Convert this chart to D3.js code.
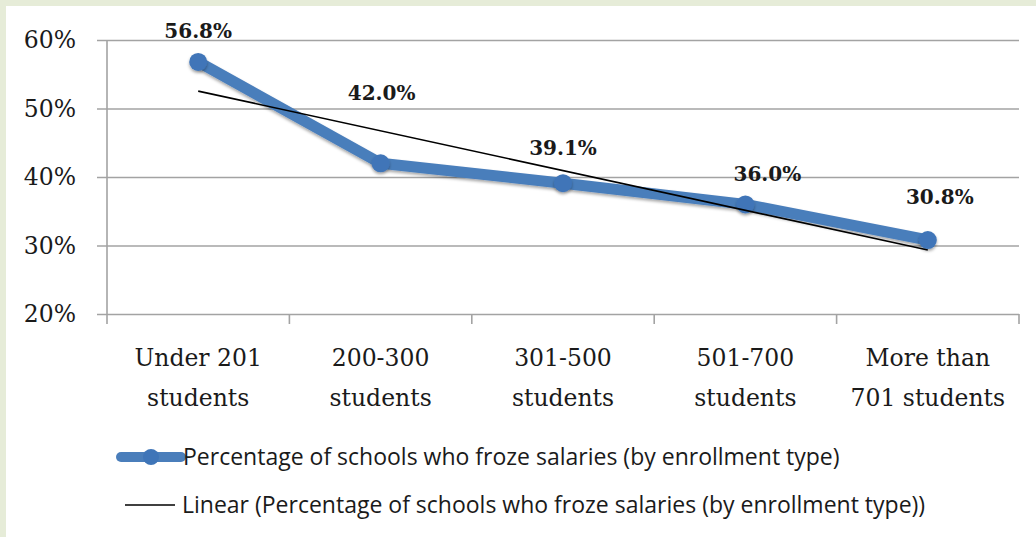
<!DOCTYPE html>
<html>
<head>
<meta charset="utf-8">
<script src="https://cdn.jsdelivr.net/npm/d3@7"></script>
<style>
  html, body { margin: 0; padding: 0; background: #ffffff; }
  svg { display: block; }
</style>
</head>
<body>
<svg id="chart"></svg>
<script>
// data
const categories = [["Under 201", "students"], ["200-300", "students"], ["301-500", "students"], ["501-700", "students"], ["More than", "701 students"]]
const frozeValues = [0.568, 0.420, 0.391, 0.360, 0.308]
const valueLabels = ["56.8%", "42.0%", "39.1%", "36.0%", "30.8%"]
const yTicks = [0.2, 0.3, 0.4, 0.5, 0.6]
const seriesName = "Percentage of schools who froze salaries (by enrollment type)"
const trendName = "Linear (Percentage of schools who froze salaries (by enrollment type))"

// label nudges (px) so the labels sit where Excel put them
const labelShift = [[0, -24], [1, -63], [0, -28], [22, -23], [12, -36]]

var dimensions = {
  width: 1036,
  height: 537,
  margin: { top: 40, bottom: 223, left: 107, right: 17 }
}
dimensions.boundedWidth = dimensions.width - dimensions.margin.left - dimensions.margin.right
dimensions.boundedHeight = dimensions.height - dimensions.margin.top - dimensions.margin.bottom

const blue = "#4a7ebb"
const gridColor = "#a3a3a3"
const serif = "'DejaVu Serif', serif"
const sans = "'Open Sans', sans-serif"

var svg = d3.select("#chart")
  .attr("width", dimensions.width)
  .attr("height", dimensions.height)

// slide background: pale green frame, white panel
svg.append("rect").attr("width", dimensions.width).attr("height", dimensions.height).attr("fill", "#e6ecd8")
svg.append("rect").attr("x", 6).attr("y", 6).attr("width", dimensions.width - 6).attr("height", dimensions.height - 6).attr("fill", "#ffffff")

var defs = svg.append("defs")
defs.append("filter").attr("id", "shadow").attr("x", "-20%").attr("y", "-20%").attr("width", "140%").attr("height", "160%")
  .append("feDropShadow").attr("dx", 0).attr("dy", 2).attr("stdDeviation", 1.5).attr("flood-color", "#000").attr("flood-opacity", 0.35)

var keys = categories.map(c => c.join(" "))

var xScale = d3.scaleBand()
  .domain(keys)
  .range([dimensions.margin.left, dimensions.margin.left + dimensions.boundedWidth])
  .padding(0)

var yScale = d3.scaleLinear()
  .domain([0.2, 0.6])
  .range([dimensions.margin.top + dimensions.boundedHeight, dimensions.margin.top])

var xMid = d => xScale(d) + xScale.bandwidth() / 2

// gridlines
svg.append("g")
  .attr("transform", `translate(${dimensions.margin.left + dimensions.boundedWidth},0)`)
  .call(d3.axisLeft(yScale).tickValues(yTicks).tickSize(dimensions.boundedWidth + 10).tickFormat(""))
  .call(g => g.select(".domain").remove())
  .call(g => g.selectAll("line").attr("stroke", gridColor).attr("stroke-width", 1.6))

// y axis labels + axis line
var yAxis = svg.append("g")
  .attr("transform", `translate(${dimensions.margin.left},0)`)
  .call(d3.axisLeft(yScale).tickValues(yTicks).tickSize(10).tickPadding(21).tickFormat(d3.format(".0%")))
yAxis.select(".domain").remove()
yAxis.selectAll("line").remove()
yAxis.selectAll("text")
  .style("font-family", serif).style("font-size", "23.5px").attr("fill", "#1a1a1a")

svg.append("line")
  .attr("x1", dimensions.margin.left).attr("x2", dimensions.margin.left)
  .attr("y1", yScale(0.6)).attr("y2", yScale(0.2) + 10)
  .attr("stroke", gridColor).attr("stroke-width", 1.6)

// category boundary ticks
var boundaries = keys.map(k => xScale(k)).concat([xScale.range()[1]])
svg.append("g").selectAll("line")
  .data(boundaries.slice(1))
  .enter().append("line")
  .attr("x1", d => d).attr("x2", d => d)
  .attr("y1", yScale(0.2)).attr("y2", yScale(0.2) + 10)
  .attr("stroke", gridColor).attr("stroke-width", 1.6)

// category labels, two lines each
var catLabels = svg.append("g").selectAll("text")
  .data(categories)
  .enter().append("text")
  .attr("x", (d, i) => xMid(keys[i]))
  .attr("y", yScale(0.2) + 52)
  .attr("text-anchor", "middle")
  .style("font-family", serif).style("font-size", "23.5px").attr("fill", "#1a1a1a")
catLabels.selectAll("tspan")
  .data(d => d)
  .enter().append("tspan")
  .attr("x", function() { return d3.select(this.parentNode).attr("x") })
  .attr("dy", (d, i) => i ? 40 : 0)
  .text(d => d)

// linear trend (least squares over category index)
var n = frozeValues.length
var idx = d3.range(1, n + 1)
var mx = d3.mean(idx), my = d3.mean(frozeValues)
var slope = d3.sum(idx, (x, i) => (x - mx) * (frozeValues[i] - my)) / d3.sum(idx, x => (x - mx) * (x - mx))
var intercept = my - slope * mx
var trend = [1, n].map(x => ({ key: keys[x - 1], v: intercept + slope * x }))

// series line
var series = keys.map((k, i) => ({ key: k, v: frozeValues[i] }))
svg.append("path")
  .datum(series)
  .attr("fill", "none")
  .attr("stroke", blue)
  .attr("stroke-width", 11)
  .attr("stroke-linejoin", "round")
  .attr("filter", "url(#shadow)")
  .attr("d", d3.line().x(d => xMid(d.key)).y(d => yScale(d.v)))

svg.selectAll(".dot")
  .data(series)
  .enter().append("circle")
  .attr("class", "dot")
  .attr("cx", d => xMid(d.key))
  .attr("cy", d => yScale(d.v))
  .attr("r", 9)
  .attr("fill", "#3f75b8")
  .attr("filter", "url(#shadow)")

svg.append("path")
  .datum(trend)
  .attr("fill", "none")
  .attr("stroke", "#000")
  .attr("stroke-width", 1.6)
  .attr("d", d3.line().x(d => xMid(d.key)).y(d => yScale(d.v)))

// data labels
svg.selectAll(".vlabel")
  .data(series)
  .enter().append("text")
  .attr("class", "vlabel")
  .attr("x", (d, i) => xMid(d.key) + labelShift[i][0])
  .attr("y", (d, i) => yScale(d.v) + labelShift[i][1])
  .attr("text-anchor", "middle")
  .style("font-family", serif).style("font-size", "20px").style("font-weight", "bold")
  .attr("fill", "#1a1a1a")
  .text((d, i) => valueLabels[i])

// legend
var legend = svg.append("g").attr("transform", "translate(121,457)")
legend.append("line")
  .attr("x1", 0).attr("x2", 60).attr("y1", 0).attr("y2", 0)
  .attr("stroke", blue).attr("stroke-width", 10).attr("stroke-linecap", "round")
legend.append("circle").attr("cx", 30).attr("cy", 0).attr("r", 8).attr("fill", "#3f75b8")
legend.append("text")
  .attr("x", 62).attr("y", 8)
  .style("font-family", sans).style("font-size", "23px").attr("fill", "#1a1a1a")
  .text(seriesName)

legend.append("line")
  .attr("x1", 4).attr("x2", 54).attr("y1", 48).attr("y2", 48)
  .attr("stroke", "#000").attr("stroke-width", 1.6)
legend.append("text")
  .attr("x", 61).attr("y", 56)
  .style("font-family", sans).style("font-size", "23px").attr("fill", "#1a1a1a")
  .text(trendName)
</script>
</body>
</html>
